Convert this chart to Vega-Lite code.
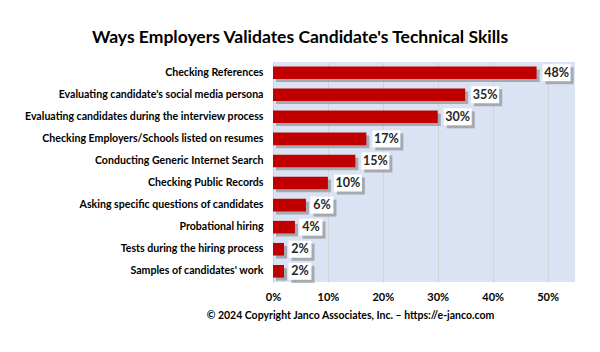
{
  "$schema": "https://vega.github.io/schema/vega-lite/v6.json",
  "width": 302,
  "height": 220,
  "autosize": {"type": "none"},
  "padding": {"left": 273, "top": 62, "right": 25, "bottom": 70},
  "background": "white",
  "title": {
    "text": "Ways Employers Validates Candidate's Technical Skills",
    "font": "Lato",
    "fontSize": 17.5,
    "fontWeight": "bold",
    "color": "#000000",
    "anchor": "middle",
    "dx": -124,
    "offset": 16
  },
  "config": {
    "view": {"fill": "#dae3f3", "stroke": null},
    "font": "Lato"
  },
  "data": {
    "values": [
      {"method": "Checking References", "value": 0.48, "label": "48%"},
      {"method": "Evaluating candidate's social media persona", "value": 0.35, "label": "35%"},
      {"method": "Evaluating candidates during the interview process", "value": 0.30, "label": "30%"},
      {"method": "Checking Employers/Schools listed on resumes", "value": 0.17, "label": "17%"},
      {"method": "Conducting Generic Internet Search", "value": 0.15, "label": "15%"},
      {"method": "Checking Public Records", "value": 0.10, "label": "10%"},
      {"method": "Asking specific questions of candidates", "value": 0.06, "label": "6%"},
      {"method": "Probational hiring", "value": 0.04, "label": "4%"},
      {"method": "Tests during the hiring process", "value": 0.02, "label": "2%"},
      {"method": "Samples of candidates' work", "value": 0.02, "label": "2%"}
    ]
  },
  "encoding": {
    "y": {
      "field": "method",
      "type": "nominal",
      "sort": null,
      "scale": {"paddingInner": 0.43, "paddingOuter": 0.2},
      "axis": {
        "title": null,
        "ticks": false,
        "domain": true,
        "domainColor": "#d0d0d0",
        "labelPadding": 10,
        "labelFont": "Lato",
        "labelFontSize": 10.6,
        "labelFontWeight": "bold",
        "labelColor": "#000000",
        "labelLimit": 300
      }
    },
    "x": {
      "field": "value",
      "type": "quantitative",
      "scale": {"domain": [0, 0.55], "nice": false},
      "axis": {
        "values": [0, 0.1, 0.2, 0.3, 0.4, 0.5],
        "format": ".0%",
        "domain": false,
        "ticks": false,
        "grid": true,
        "gridColor": "#d4d4d4",
        "labelPadding": 9,
        "labelFont": "Lato",
        "labelFontSize": 11,
        "labelFontWeight": "bold",
        "labelColor": "#000000",
        "labelFlush": false,
        "title": "© 2024 Copyright Janco Associates, Inc. – https://e-janco.com",
        "titleFont": "Lato",
        "titleFontSize": 10.5,
        "titleFontWeight": "bold",
        "titleColor": "#000000",
        "titlePadding": 8,
        "titleX": 77,
        "titleAnchor": "middle"
      }
    }
  },
  "layer": [
    {
      "mark": {"type": "bar", "color": "#9ea2a9", "opacity": 0.9, "xOffset": 3, "yOffset": 3},
      "encoding": {}
    },
    {
      "mark": {"type": "bar", "color": "#c00000"},
      "encoding": {}
    },
    {
      "transform": [{"filter": "datum.value >= 0.1"}],
      "mark": {"type": "point", "shape": "M-1.4,-0.85H1.4V0.85H-1.4Z", "size": 400, "filled": true, "color": "#9ea2a9", "opacity": 0.9, "xOffset": 23, "yOffset": 3},
      "encoding": {}
    },
    {
      "transform": [{"filter": "datum.value >= 0.1"}],
      "mark": {"type": "point", "shape": "M-1.4,-0.85H1.4V0.85H-1.4Z", "size": 400, "filled": true, "color": "white", "opacity": 1, "xOffset": 20},
      "encoding": {}
    },
    {
      "transform": [{"filter": "datum.value < 0.1"}],
      "mark": {"type": "point", "shape": "M-1.15,-0.85H1.15V0.85H-1.15Z", "size": 400, "filled": true, "color": "#9ea2a9", "opacity": 0.9, "xOffset": 19, "yOffset": 3},
      "encoding": {}
    },
    {
      "transform": [{"filter": "datum.value < 0.1"}],
      "mark": {"type": "point", "shape": "M-1.15,-0.85H1.15V0.85H-1.15Z", "size": 400, "filled": true, "color": "white", "opacity": 1, "xOffset": 16},
      "encoding": {}
    },
    {
      "transform": [{"filter": "datum.value >= 0.1"}],
      "mark": {"type": "text", "font": "Lato", "fontSize": 12.5, "fontWeight": "bold", "color": "#262626", "align": "center", "baseline": "middle", "xOffset": 20},
      "encoding": {"text": {"field": "label"}}
    },
    {
      "transform": [{"filter": "datum.value < 0.1"}],
      "mark": {"type": "text", "font": "Lato", "fontSize": 12.5, "fontWeight": "bold", "color": "#262626", "align": "center", "baseline": "middle", "xOffset": 16},
      "encoding": {"text": {"field": "label"}}
    }
  ]
}
